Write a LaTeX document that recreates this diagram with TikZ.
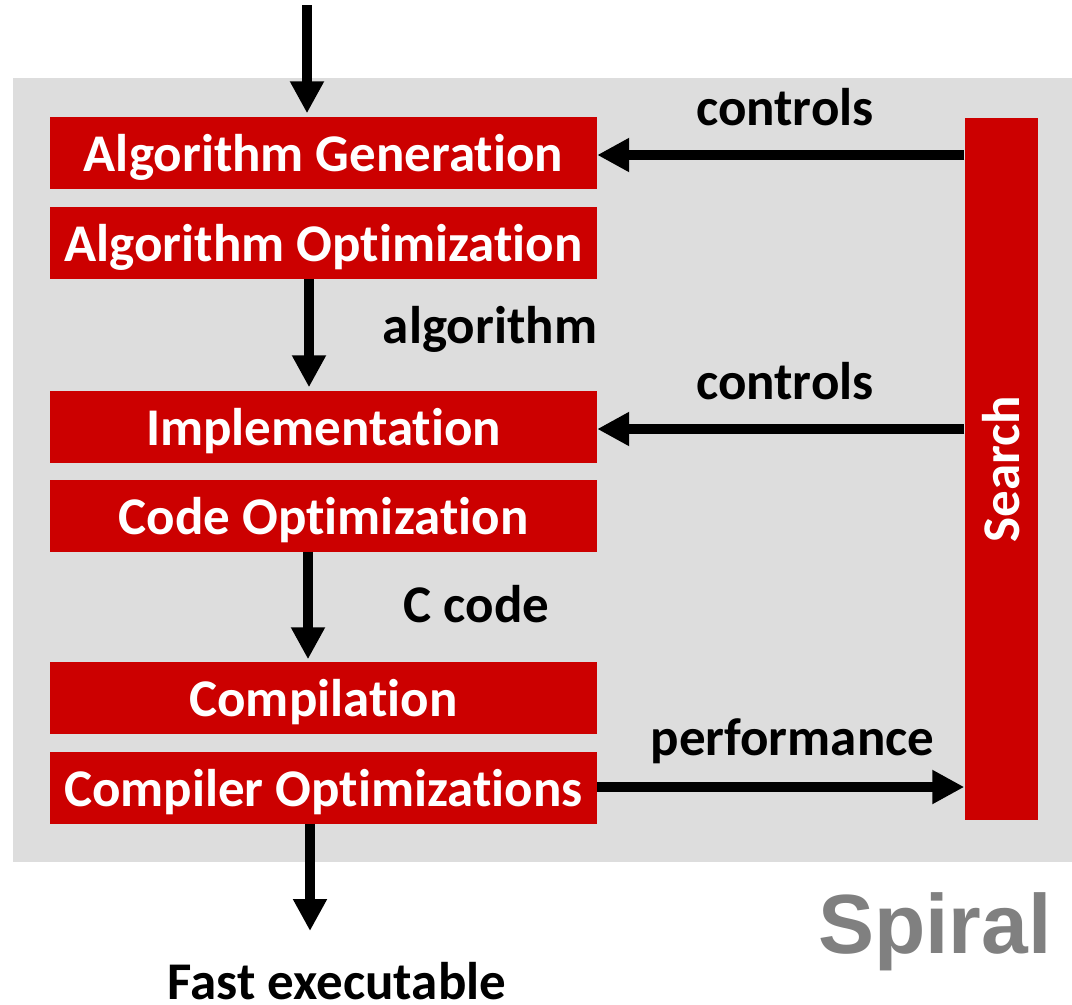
\documentclass[tikz,border=0pt]{standalone}
\usepackage{fontspec}
\setmainfont{Carlito}[RawFeature={-liga}]
\newfontfamily\spiralfont{Liberation Sans}
\usetikzlibrary{arrows.meta}
\definecolor{boxred}{HTML}{CC0000}
\definecolor{bggray}{HTML}{DDDDDD}
\definecolor{spiralgray}{HTML}{808080}
\begin{document}
\begin{tikzpicture}[x=1pt,y=-1pt,
  redbox/.style={fill=boxred, inner sep=0pt, minimum width=547pt, minimum height=72pt,
    text height=37pt, text depth=0pt,
    text=white, font=\fontsize{53}{60}\selectfont\bfseries},
  lbl/.style={anchor=base, inner sep=0pt, font=\fontsize{53}{60}\selectfont\bfseries},
  flow/.style={line width=10.7pt, -{Triangle[length=32pt,width=32pt]}}
]
\useasboundingbox (0,0) rectangle (1072,1005);
\fill[bggray] (13,78) rectangle (1072,862);

\node[redbox] (ag) at (323.5,152.5) {Algorithm Generation};
\node[redbox] (ao) at (323.5,242.5) {Algorithm Optimization};
\node[redbox] (im) at (323.5,426.5) {Implementation};
\node[redbox] (co) at (323.5,515.5) {Code Optimization};
\node[redbox] (cp) at (323.5,697.5) {Compilation};
\node[redbox] (cpo) at (323.5,787.5) {Compiler Optimizations};
\node[fill=boxred, inner sep=0pt, minimum width=73pt, minimum height=702pt] (search) at (1001,469) {};
\node[rotate=90, text=white, inner sep=0pt, text height=37pt, text depth=0pt, font=\fontsize{53}{60}\selectfont\bfseries] (searchlbl) at (search.center) {Search};

\coordinate (in) at (307,5);
\coordinate (out) at (310,931);
\draw[flow, shorten >=3pt] (in) -- (in |- ag.north);
\draw[flow, shorten >=3pt] (ao.south -| 309,0) -- (im.north -| 309,0);
\draw[flow, shorten >=2pt] (co.south -| 308,0) -- (cp.north -| 308,0);
\draw[flow] (cpo.south -| out) -- (out);

\draw[flow] (search.west |- 0,155) -- (ag.east |- 0,155);
\draw[flow] (search.west |- 0,429) -- (im.east |- 0,429);
\draw[flow] (cpo.east |- 0,787) -- (search.west |- 0,787);

\node[lbl] (c1) at (785,125) {controls};
\node[lbl] (c2) at (785,399) {controls};
\node[lbl] (alg) at (490,343) {algorithm};
\node[lbl] (cc) at (476.5,622) {C code};
\node[lbl] (perf) at (792.5,755) {performance};
\node[lbl, text depth=0pt] (fast) at (337,999) {Fast executable};
\node[anchor=base, inner sep=0pt, text=spiralgray, font=\spiralfont\fontsize{84}{90}\selectfont\bfseries] (spiral) at (935,953) {Spiral};
\end{tikzpicture}
\end{document}
